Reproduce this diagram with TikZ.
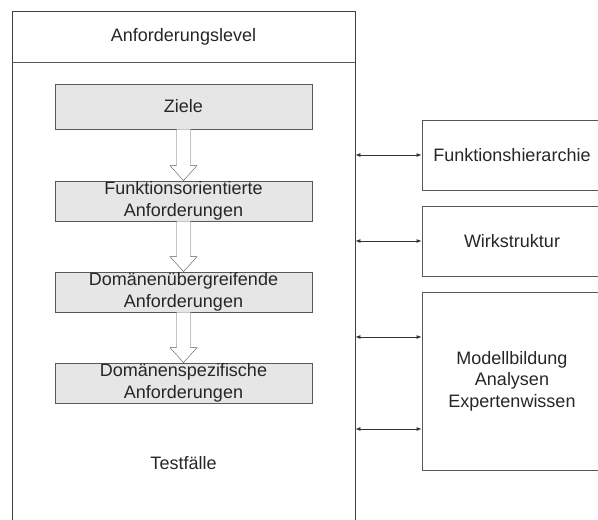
\documentclass[tikz,border=0pt]{standalone}
\usepackage{fontspec}
\setmainfont{Liberation Sans}
\usetikzlibrary{calc,arrows.meta}
\definecolor{boxfill}{HTML}{E6E6E6}
\definecolor{boxline}{HTML}{595959}
\definecolor{txt}{HTML}{262626}
\newcommand{\blockarrow}[2]{%
  \draw[boxline,fill=white] ($(#1.south)+(-7,0)$) -- ($(#2.north)+(-7,-15)$) -- ($(#2.north)+(-13.5,-15)$)
    -- (#2.north) -- ($(#2.north)+(13.5,-15)$) -- ($(#2.north)+(7,-15)$) -- ($(#1.south)+(7,0)$);}
\begin{document}
\begin{tikzpicture}[x=1pt,y=-1pt, every node/.style={font=\fontsize{18}{21.5}\selectfont,text=txt},
  reqbox/.style={draw=boxline,fill=boxfill,thick,minimum width=257pt,minimum height=40pt,align=center,inner sep=0pt},
  sidebox/.style={draw=boxline,thick,minimum width=180pt,align=center,inner sep=0pt},
  link/.style={{Latex[length=5pt,width=4pt]}-{Latex[length=5pt,width=4pt]},thick,black!80}]
\clip (0,0) rectangle (598,520);
% left column
\node[draw=black!75,thick,minimum width=343pt,minimum height=530pt,inner sep=0pt] (level) at (183.5,276) {};
\draw[boxline,thick] (level.west |- 0,62) -- (level.east |- 0,62);
\node (lvltitle) at (183.5,37) {Anforderungslevel};
\node[reqbox,minimum height=45pt] (ziele) at (183.5,106.5) {Ziele};
\node[reqbox] (funk) at (183.5,201) {Funktionsorientierte\\Anforderungen};
\node[reqbox] (domue) at (183.5,292) {Domänenübergreifende\\Anforderungen};
\node[reqbox] (domsp) at (183.5,383) {Domänenspezifische\\Anforderungen};
\node (test) at (183.5,463) {Testfälle};
\blockarrow{ziele}{funk}
\blockarrow{funk}{domue}
\blockarrow{domue}{domsp}
% right column
\node[sidebox,minimum height=70pt] (fhier) at (512,155) {Funktionshierarchie};
\node[sidebox,minimum height=70pt] (wirk) at (512,241) {Wirkstruktur};
\node[sidebox,minimum height=178pt] (modell) at (512,381) {Modellbildung\\Analysen\\Expertenwissen};
\coordinate (m1) at ($(modell.west)+(0,-44)$);
\coordinate (m2) at ($(modell.west)+(0,48)$);
\draw[link] (level.east |- fhier.west) -- (fhier.west);
\draw[link] (level.east |- wirk.west) -- (wirk.west);
\draw[link] (level.east |- m1) -- (m1);
\draw[link] (level.east |- m2) -- (m2);
\end{tikzpicture}
\end{document}
